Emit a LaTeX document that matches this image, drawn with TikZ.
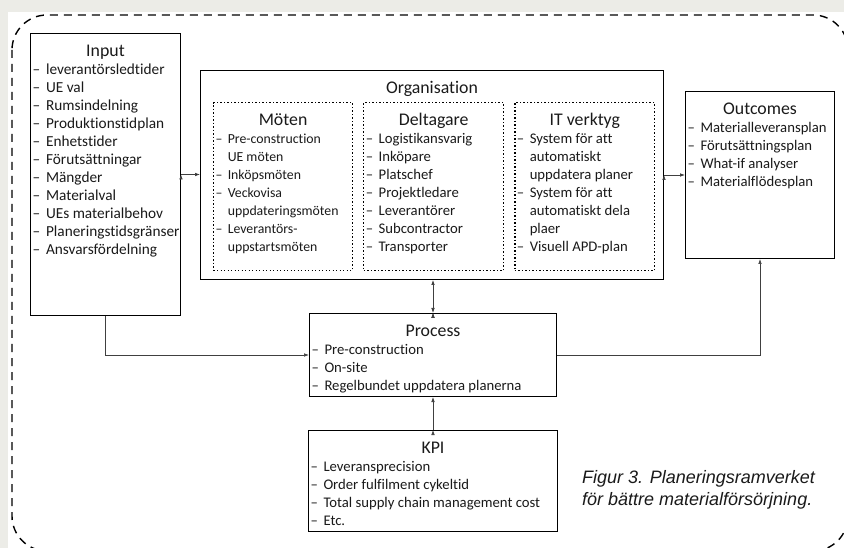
\documentclass[tikz,border=0pt]{standalone}
\usepackage{fontspec}
\setmainfont{Carlito}[Ligatures=NoCommon]
\newfontfamily\capfont{Liberation Sans}
\usetikzlibrary{positioning,arrows.meta}

\definecolor{bggray}{HTML}{ECECE7}
\definecolor{ink}{HTML}{1A1A1A}

% box body: [item size]{outer width}{outer height}{content}
\newcommand\boxtext[4][14.7]{\parbox[c][\dimexpr#3pt-5.2pt\relax][t]{\dimexpr#2pt-5.2pt\relax}{%
  \fontsize{#1}{18}\selectfont\hyphenpenalty10000\exhyphenpenalty10000 #4}}
\newcommand\boxhead[1]{{\centering\fontsize{17.8}{18}\selectfont\rule{0pt}{21pt}#1\par}}
\newcommand\itm[1]{\par\setbox0\hbox{–\hspace{0.38em}}\hangindent\wd0 \hangafter1 \noindent\box0 #1}

\begin{document}
\begin{tikzpicture}[x=1pt,y=-1pt,>={Latex[length=5pt,width=3.6pt]}]
\tikzstyle{frame}=[draw,line width=1.2pt,inner sep=2pt,anchor=north west,text=ink];
\tikzstyle{dotbox}=[frame,line width=1.3pt,dash pattern=on 1.3pt off 2.2pt];
\tikzstyle{link}=[line width=0.7pt,draw=black!75];
\useasboundingbox (0,0) rectangle (844,548);
\clip (0,0) rectangle (844,548);
\fill[bggray] (0,0) rectangle (844,548);
\fill[white] (8,12) rectangle (844,548);
\draw[line width=1.4pt,dash pattern=on 8pt off 6pt,rounded corners=35pt] (12,15) rectangle (848,551);

\node[frame] (input) at (30,33) {\boxtext[15.3]{151}{283}{%
  \boxhead{Input}
  \itm{leverantörsledtider}
  \itm{UE val}
  \itm{Rumsindelning}
  \itm{Produktionstidplan}
  \itm{Enhetstider}
  \itm{Förutsättningar}
  \itm{Mängder}
  \itm{Materialval}
  \itm{UEs materialbehov}
  \itm{Planeringstidsgränser}
  \itm{Ansvarsfördelning}}};
\node[frame] (org) at (200,70) {\boxtext{464}{210}{\boxhead{Organisation}}};
\node[dotbox] (moten) at (213,102) {\boxtext[13.8]{140}{169}{%
  \boxhead{Möten}
  \itm{Pre-construction\\UE möten}
  \itm{Inköpsmöten}
  \itm{Veckovisa\\uppdateringsmöten}
  \itm{Leverantörs-\\uppstartsmöten}}};
\node[dotbox,anchor=west] (deltagare) [right=10pt of moten] {\boxtext{141}{169}{%
  \boxhead{Deltagare}
  \itm{Logistikansvarig}
  \itm{Inköpare}
  \itm{Platschef}
  \itm{Projektledare}
  \itm{Leverantörer}
  \itm{Subcontractor}
  \itm{Transporter}}};
\node[dotbox,anchor=west] (itverktyg) [right=10pt of deltagare] {\boxtext{141}{169}{%
  \boxhead{IT verktyg}
  \itm{System för att\\automatiskt\\uppdatera planer}
  \itm{System för att\\automatiskt dela\\plaer}
  \itm{Visuell APD-plan}}};
\node[frame] (outcomes) at (685,91) {\boxtext{150}{168}{%
  \boxhead{Outcomes}
  \itm{Materialleveransplan}
  \itm{Förutsättningsplan}
  \itm{What-if analyser}
  \itm{Materialflödesplan}}};
\node[frame] (process) at (309,313) {\boxtext{248}{84}{%
  \boxhead{Process}
  \itm{Pre-construction}
  \itm{On-site}
  \itm{Regelbundet uppdatera planerna}}};
\node[frame,anchor=north] (kpi) [below=33pt of process] {\boxtext{250}{102}{%
  \boxhead{KPI}
  \itm{Leveransprecision}
  \itm{Order fulfilment cykeltid}
  \itm{Total supply chain management cost}
  \itm{Etc.}}};
\node[anchor=north west,inner sep=0pt,align=left,text=ink,font=\capfont\itshape\fontsize{18}{22}\selectfont] (caption) at (582,470)
  {Figur 3. Planeringsramverket\\för bättre materialförsörjning.};

\path[link,->] (input.east) edge (input.east -| org.west);
\path[link,->] (org.east) edge (org.east -| outcomes.west);
\path[link,<->] (process.north) edge (process.north |- org.south);
\path[link,->] (kpi.north) edge (process.south);
\draw[link,->] (input.south) |- (process.west);
\draw[link,->] (process.east) -| (outcomes.south);
\end{tikzpicture}
\end{document}
